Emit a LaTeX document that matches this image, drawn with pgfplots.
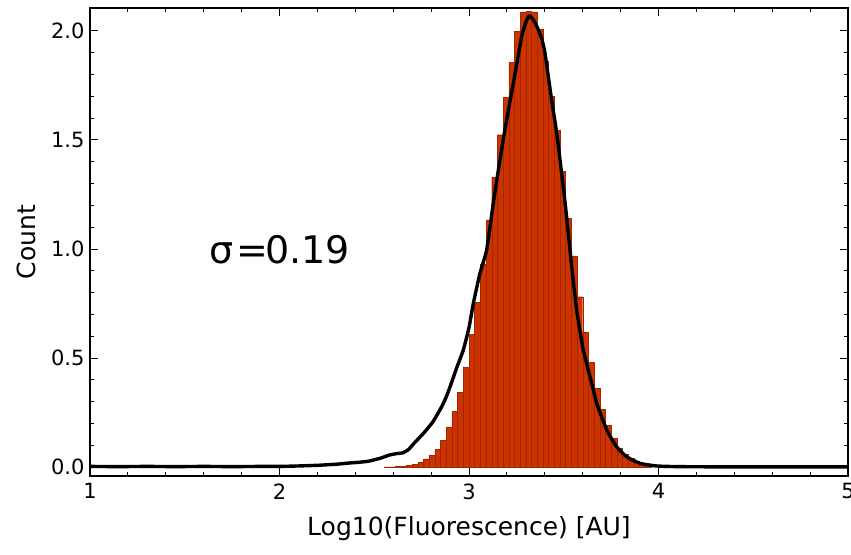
\documentclass[border=0pt]{standalone}
\usepackage{fontspec}
\setmainfont{DejaVu Sans}
\usepackage{pgfplots}
\pgfplotsset{compat=1.18}
\definecolor{barfill}{RGB}{204,51,0}
\definecolor{baredge}{RGB}{160,40,0}
\begin{document}
\begin{tikzpicture}
\begin{axis}[
  name=ax,
  scale only axis,
  width=758pt, height=468pt,
  xmin=1, xmax=5, ymin=-0.041, ymax=2.105,
  xtick={1,2,3,4,5},
  ytick={0,0.5,1,1.5,2},
  minor x tick num=4,
  minor y tick num=4,
  tick align=inside,
  major tick length=8pt,
  minor tick length=4pt,
  tick style={black, line width=0.9pt},
  axis line style={line width=1.6pt},
  xticklabel style={font=\fontsize{21}{24}\selectfont, yshift=-4pt},
  yticklabel style={font=\fontsize{21}{24}\selectfont, /pgf/number format/fixed, /pgf/number format/fixed zerofill, /pgf/number format/precision=1, xshift=-2pt},
  /pgf/number format/assume math mode=true,
  xlabel={Log10(Fluorescence) [AU]},
  ylabel={Count},
  xlabel style={font=\fontsize{25}{28}\selectfont, yshift=-10pt},
  ylabel style={font=\fontsize{25}{28}\selectfont, yshift=8pt},
  clip=true,
]
\addplot[ybar interval, fill=barfill, draw=baredge, line width=0.4pt] coordinates {
(2.55,0.001) (2.58,0.001) (2.61,0.002) (2.64,0.004) (2.67,0.007) (2.70,0.012)
(2.73,0.022) (2.76,0.037) (2.79,0.055) (2.82,0.081) (2.85,0.124) (2.88,0.182)
(2.91,0.254) (2.94,0.342) (2.97,0.457) (3.00,0.609) (3.03,0.754) (3.06,0.931)
(3.09,1.133) (3.12,1.329) (3.15,1.524) (3.18,1.696) (3.21,1.855) (3.24,1.997)
(3.27,2.085) (3.30,2.090) (3.33,2.087) (3.36,2.008) (3.39,1.859) (3.42,1.699)
(3.45,1.543) (3.48,1.357) (3.51,1.141) (3.54,0.968) (3.57,0.781) (3.60,0.619)
(3.63,0.481) (3.66,0.361) (3.69,0.265) (3.72,0.190) (3.75,0.131) (3.78,0.086)
(3.81,0.058) (3.84,0.040) (3.87,0.026) (3.90,0.012) (3.93,0.004) (3.96,0.004)
};
\addplot[black, line width=3.4pt, line join=round, smooth, tension=0.3] coordinates {
(1.00,0.003) (1.15,0.002) (1.30,0.003) (1.45,0.002) (1.60,0.003) (1.75,0.002)
(1.90,0.003) (2.00,0.003) (2.10,0.005) (2.20,0.008) (2.30,0.013) (2.36,0.018)
(2.42,0.022) (2.47,0.027) (2.53,0.040) (2.58,0.055) (2.62,0.062) (2.65,0.065)
(2.68,0.080) (2.71,0.109) (2.76,0.155) (2.81,0.208) (2.856,0.277) (2.88,0.322)
(2.90,0.368) (2.935,0.455) (2.97,0.537) (3.00,0.640) (3.023,0.751) (3.058,0.889)
(3.093,0.995) (3.13,1.22) (3.16,1.39) (3.19,1.55) (3.234,1.76) (3.278,1.974)
(3.30,2.040) (3.318,2.069) (3.34,2.050) (3.366,2.005) (3.385,1.960) (3.401,1.898)
(3.436,1.683) (3.463,1.531) (3.498,1.280) (3.515,1.148) (3.542,0.919) (3.568,0.720)
(3.603,0.537) (3.639,0.414) (3.656,0.355) (3.674,0.292) (3.727,0.170) (3.779,0.093)
(3.832,0.047) (3.902,0.017) (3.99,0.005) (4.10,0.002) (4.30,0.001) (4.60,0.001) (5.00,0.001)
};
\node[font=\fontsize{38}{42}\selectfont, inner sep=0pt] at (axis cs:2.0,0.995) {σ\kern3pt=\kern-3pt0.19};
\end{axis}
\pgfresetboundingbox
\path ([shift={(-90pt,-78pt)}]ax.south west) rectangle ([shift={(3pt,8pt)}]ax.north east);
\end{tikzpicture}
\end{document}
